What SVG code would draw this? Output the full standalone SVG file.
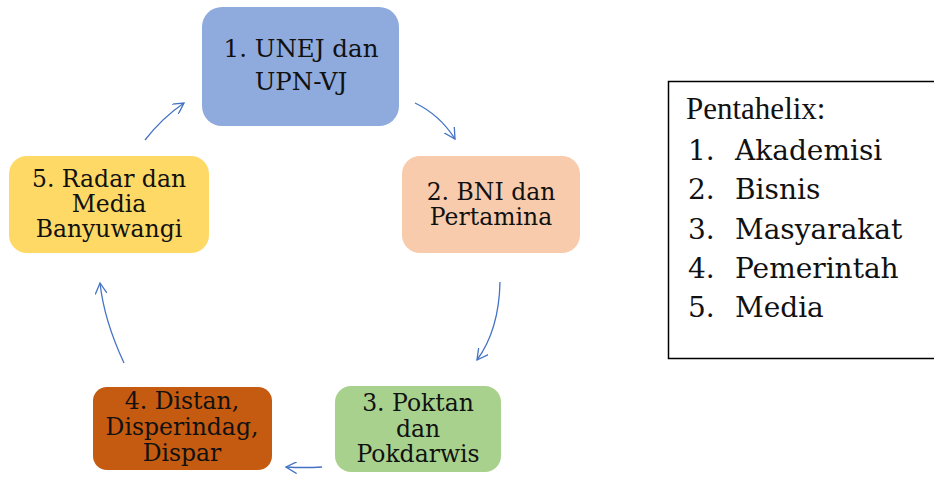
<svg xmlns="http://www.w3.org/2000/svg" width="934" height="477" viewBox="0 0 934 477">
<style>
.n text{font-family:"DejaVu Serif","Liberation Serif",serif;fill:#111;text-anchor:middle}
.t{font-size:23.5px}
.t1{font-size:24.5px}
.c{fill:none;stroke:#4472C4;stroke-width:1.3}
.li{font-family:"DejaVu Serif","Liberation Serif",serif;font-size:28px;fill:#111}
</style>
<defs>
<marker id="ah" viewBox="0 0 12 12" refX="11" refY="6" markerWidth="12" markerHeight="12" markerUnits="userSpaceOnUse" orient="auto">
<path d="M0,0 L11,6 L0,12" fill="none" stroke="#4472C4" stroke-width="1.3"/>
</marker>
</defs>
<rect width="934" height="477" fill="#fff"/>
<g id="n1" class="n">
<rect x="202" y="7" width="197" height="119" rx="20" fill="#8FAADC"/>
<text class="t1" x="301" y="57">1. UNEJ dan</text>
<text class="t1" x="301" y="90">UPN-VJ</text>
</g>
<g id="n2" class="n">
<rect x="402" y="156" width="178" height="97" rx="18" fill="#F8CBAD"/>
<text class="t" x="491" y="200">2. BNI dan</text>
<text class="t" x="491" y="225">Pertamina</text>
</g>
<g id="n3" class="n">
<rect x="335" y="386" width="166" height="86" rx="16" fill="#A9D18E"/>
<text class="t" x="418" y="411">3. Poktan</text>
<text class="t" x="418" y="437">dan</text>
<text class="t" x="418" y="462">Pokdarwis</text>
</g>
<g id="n4" class="n">
<rect x="93" y="387" width="179" height="83" rx="14" fill="#C55A11"/>
<text class="t" x="182" y="409">4. Distan,</text>
<text class="t" x="182" y="435">Disperindag,</text>
<text class="t" x="182" y="461">Dispar</text>
</g>
<g id="n5" class="n">
<rect x="9" y="156" width="200" height="97" rx="18" fill="#FFD966"/>
<text class="t" x="109" y="187">5. Radar dan</text>
<text class="t" x="109" y="212">Media</text>
<text class="t" x="109" y="237">Banyuwangi</text>
</g>
<g id="connectors">
<path class="c" d="M145,140 Q162,118 184,103" marker-end="url(#ah)"/>
<path class="c" d="M415,103 Q440,115 455,139" marker-end="url(#ah)"/>
<path class="c" d="M500,282 Q499,330 477,360" marker-end="url(#ah)"/>
<path class="c" d="M322,467 Q304,468 286,467" marker-end="url(#ah)"/>
<path class="c" d="M124,363 Q104,320 100,283" marker-end="url(#ah)"/>
</g>
<g id="legend">
<rect x="668.5" y="81.5" width="280" height="277" fill="#fff" stroke="#000" stroke-width="1.5"/>
<text x="686" y="119" font-family="Liberation Serif,serif" font-size="31" fill="#111">Pentahelix:</text>
<text class="li" x="688" y="160">1.</text><text class="li" x="735" y="160">Akademisi</text>
<text class="li" x="688" y="199">2.</text><text class="li" x="735" y="199">Bisnis</text>
<text class="li" x="688" y="239">3.</text><text class="li" x="735" y="239">Masyarakat</text>
<text class="li" x="688" y="278">4.</text><text class="li" x="735" y="278">Pemerintah</text>
<text class="li" x="688" y="317">5.</text><text class="li" x="735" y="317">Media</text>
</g>
</svg>
